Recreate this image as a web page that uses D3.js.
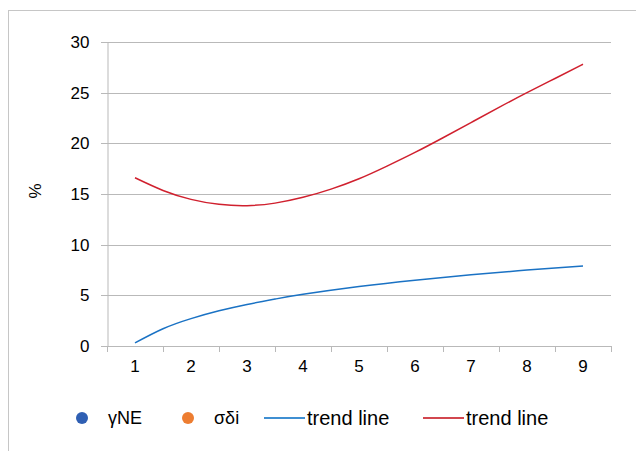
<!DOCTYPE html>
<html lang="en">
<head>
  <meta charset="utf-8">
  <title>trend lines</title>
  <style>
    body { margin: 0; background: #fff; }
    text { font-family: "Liberation Sans", Arial, sans-serif; fill: #000; }
  </style>
</head>
<body>
  <script src="https://cdnjs.cloudflare.com/ajax/libs/d3/7.8.5/d3.min.js"></script>
  <script>
  // categories on the x axis
  const categories = [1, 2, 3, 4, 5, 6, 7, 8, 9];
  const yTicks = [0, 5, 10, 15, 20, 25, 30];

  // trend lines (x in category units)
  const blueX = [1, 1.5, 2, 2.5, 3, 3.5, 4, 5, 6, 7, 8, 9];
  const blueY = [0.3, 1.7, 2.7, 3.47, 4.1, 4.63, 5.1, 5.87, 6.5, 7.03, 7.49, 7.9];
  const redX = [1, 1.5, 2, 2.5, 3, 3.5, 4, 4.5, 5, 5.5, 6, 6.5, 7, 7.5, 8, 8.5, 9];
  const redY = [16.6, 15.35, 14.47, 13.98, 13.85, 14.1, 14.67, 15.48, 16.5, 17.75, 19.1, 20.55, 22.05, 23.55, 25.0, 26.4, 27.8];

  const legendItems = [
    { label: "γNE", type: "dot", color: "#2f5fb3" },
    { label: "σδi", type: "dot", color: "#ed7d31" },
    { label: "trend line", type: "line", color: "#3f8fd2" },
    { label: "trend line", type: "line", color: "#d2474f" }
  ];

  const W = 636, H = 451;
  const plot = { left: 107, right: 611, top: 42, bottom: 346 };

  const svg = d3.select("body").append("svg")
    .attr("width", W)
    .attr("height", H);

  // chart frame
  svg.append("rect")
    .attr("x", 8.5).attr("y", 10.5)
    .attr("width", 700).attr("height", 500)
    .attr("fill", "none")
    .attr("stroke", "#c6c6c6");

  const x = d3.scaleBand()
    .domain(categories)
    .range([plot.left, plot.right]);

  // numeric x for the trend curves (category centres)
  const xLin = d3.scaleLinear()
    .domain([1, 9])
    .range([x(1) + x.bandwidth() / 2, x(9) + x.bandwidth() / 2]);

  const y = d3.scaleLinear()
    .domain([0, 30])
    .range([plot.bottom, plot.top]);

  const gridColor = "#b9b9b9";

  // gridlines
  svg.append("g")
    .selectAll("line")
    .data(yTicks)
    .join("line")
    .attr("x1", plot.left - 6)
    .attr("x2", plot.right)
    .attr("y1", d => Math.round(y(d)) + 0.5)
    .attr("y2", d => Math.round(y(d)) + 0.5)
    .attr("stroke", gridColor);

  // y axis
  const yAxis = d3.axisLeft(y).tickValues(yTicks).tickSize(0).tickPadding(18);
  svg.append("g")
    .attr("transform", `translate(${plot.left + 0.5},0)`)
    .call(yAxis)
    .call(g => g.select(".domain").attr("stroke", gridColor))
    .call(g => g.selectAll("text").attr("font-size", 17).attr("font-family", null));

  // x axis
  const xAxis = d3.axisBottom(x).tickSize(0).tickPadding(13);
  svg.append("g")
    .attr("transform", `translate(0,${Math.round(y(0)) + 0.5})`)
    .call(xAxis)
    .call(g => g.select(".domain").remove())
    .call(g => g.selectAll("text").attr("font-size", 17).attr("font-family", null));

  // x tick marks at band edges
  const edges = categories.map(c => x(c)).concat([plot.right]);
  svg.append("g")
    .selectAll("line")
    .data(edges)
    .join("line")
    .attr("x1", d => Math.round(d) + 0.5)
    .attr("x2", d => Math.round(d) + 0.5)
    .attr("y1", Math.round(y(0)))
    .attr("y2", Math.round(y(0)) + 6)
    .attr("stroke", gridColor);

  // y axis title
  svg.append("text")
    .attr("transform", "translate(41,191) rotate(-90)")
    .attr("text-anchor", "middle")
    .attr("font-size", 17)
    .text("%");

  const line = d3.line()
    .x(d => xLin(d[0]))
    .y(d => y(d[1]))
    .curve(d3.curveNatural);

  svg.append("path")
    .datum(d3.zip(blueX, blueY))
    .attr("d", line)
    .attr("fill", "none")
    .attr("stroke", "#1a72c4")
    .attr("stroke-width", 1.5);

  svg.append("path")
    .datum(d3.zip(redX, redY))
    .attr("d", line)
    .attr("fill", "none")
    .attr("stroke", "#d0202e")
    .attr("stroke-width", 1.5);

  // legend
  const legendX = [82, 188, 264, 423];
  const legendY = 418;
  const lg = svg.append("g")
    .selectAll("g")
    .data(legendItems)
    .join("g")
    .attr("transform", (d, i) => `translate(${legendX[i]},${legendY})`);

  lg.filter(d => d.type === "dot")
    .append("circle")
    .attr("r", 6)
    .attr("fill", d => d.color);

  lg.filter(d => d.type === "line")
    .append("line")
    .attr("x1", 0).attr("x2", 41)
    .attr("stroke", d => d.color)
    .attr("stroke-width", 2);

  lg.append("text")
    .attr("x", d => d.type === "dot" ? 26 : 43)
    .attr("dy", "0.35em")
    .attr("font-size", d => d.type === "dot" ? 18 : 20)
    .text(d => d.label);
  </script>
</body>
</html>
